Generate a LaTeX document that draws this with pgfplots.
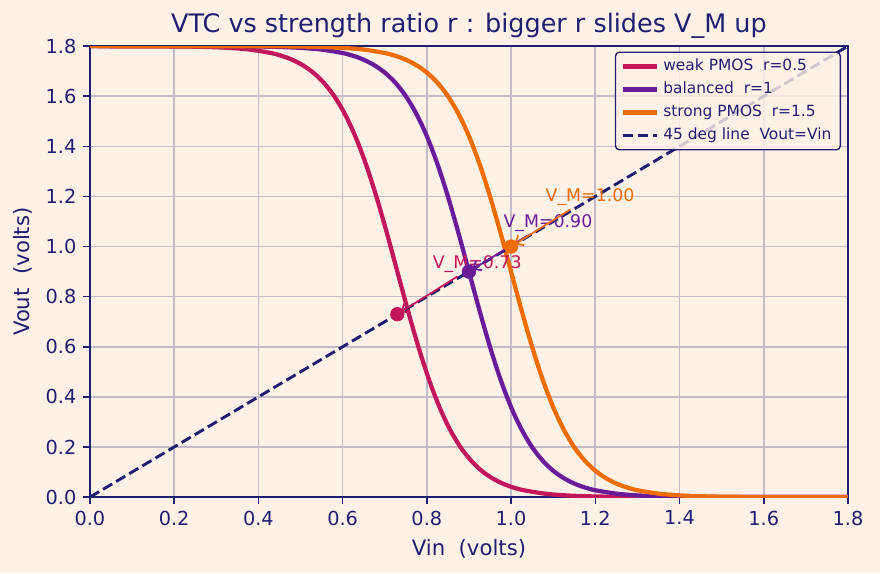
\documentclass[border=0pt]{standalone}
\usepackage{fontspec}
\setmainfont{DejaVu Sans}
\usepackage{pgfplots}
\pgfplotsset{compat=1.18}
\usetikzlibrary{arrows.meta}

\definecolor{bgc}{HTML}{FFF1E6}
\definecolor{navy}{HTML}{1E1E72}
\definecolor{crim}{HTML}{C2185B}
\definecolor{purp}{HTML}{6A1B9A}
\definecolor{oran}{HTML}{EF6C00}
\colorlet{gridc}{navy!26!bgc}

\begin{document}
\begin{tikzpicture}
\path[use as bounding box, fill=bgc] (0,0) rectangle (456pt,297pt);
\begin{axis}[
  at={(46.6pt,39.4pt)}, anchor=south west,
  scale only axis, width=392.8pt, height=233.7pt,
  xmin=0, xmax=1.8, ymin=0, ymax=1.8,
  xtick={0,0.2,0.4,0.6,0.8,1.0,1.2,1.4,1.6,1.8},
  ytick={0,0.2,0.4,0.6,0.8,1.0,1.2,1.4,1.6,1.8},
  tick pos=left, tick align=outside,
  major tick length=3.5pt,
  tick style={navy, line width=0.8pt},
  axis line style={navy, line width=1pt},
  grid=major,
  major grid style={gridc, line width=0.85pt},
  axis background/.style={fill=bgc},
  /pgf/number format/.cd, fixed, fixed zerofill, precision=1, assume math mode=true,
  /pgfplots/.cd,
  ticklabel style={font=\fontsize{10}{12}\selectfont, text=navy},
  title={VTC vs strength ratio r : bigger r slides V\_M up},
  title style={at={(axis description cs:0.5,1)}, anchor=base, yshift=1.3pt,
    inner sep=0pt, font=\fontsize{13.2}{15.8}\selectfont, text=navy},
  xlabel={Vin\ \ (volts)},
  ylabel={Vout\ \ (volts)},
  every axis x label/.style={at={(axis description cs:0.5,0)}, anchor=center,
    yshift=-27pt, font=\fontsize{11}{13.2}\selectfont, text=navy},
  every axis y label/.style={at={(axis description cs:0,0.5)}, rotate=90,
    anchor=center, yshift=35pt, font=\fontsize{11}{13.2}\selectfont, text=navy},
  legend cell align=left,
  legend image code/.code={\draw[#1, line cap=butt] (0pt,0pt) -- (18pt,0pt);},
  legend style={at={(axis description cs:1,1)}, anchor=north east,
    xshift=-3.6pt, yshift=-2.8pt, draw=navy, line width=0.7pt,
    fill=bgc, fill opacity=0.8, draw opacity=1, text opacity=1,
    rounded corners=2pt, font=\fontsize{8}{9.6}\selectfont, text=navy,
    row sep=0.4pt, inner xsep=2.6pt, inner ysep=1.6pt},
]

% weak PMOS, r = 0.5  (V_M = 0.73)
\addplot[crim, line width=2.2pt, smooth] coordinates {
(0,1.8) (0.13,1.7996) (0.23,1.7983) (0.28,1.7965) (0.33,1.7931) (0.38,1.7862)
(0.43,1.7725) (0.455,1.7614) (0.48,1.7458) (0.505,1.7242) (0.53,1.6946)
(0.555,1.6544) (0.58,1.6007) (0.605,1.5303) (0.63,1.4408) (0.655,1.3305)
(0.68,1.2005) (0.705,1.0547) (0.73,0.9) (0.755,0.7453) (0.78,0.5995)
(0.805,0.4695) (0.83,0.3592) (0.855,0.2697) (0.88,0.1993) (0.905,0.1456)
(0.93,0.1054) (0.955,0.0758) (0.98,0.0542) (1.005,0.0386) (1.03,0.0275)
(1.08,0.0138) (1.13,0.0069) (1.18,0.0035) (1.23,0.0017) (1.33,0.0004) (1.8,0)
};
\addlegendentry{weak PMOS\ \ r=0.5}

% balanced, r = 1  (V_M = 0.90)
\addplot[purp, line width=2.2pt, smooth] coordinates {
(0,1.8) (0.3,1.7996) (0.4,1.7983) (0.45,1.7965) (0.5,1.7931) (0.55,1.7862)
(0.6,1.7725) (0.625,1.7614) (0.65,1.7458) (0.675,1.7242) (0.7,1.6946)
(0.725,1.6544) (0.75,1.6007) (0.775,1.5303) (0.8,1.4408) (0.825,1.3305)
(0.85,1.2005) (0.875,1.0547) (0.9,0.9) (0.925,0.7453) (0.95,0.5995)
(0.975,0.4695) (1.0,0.3592) (1.025,0.2697) (1.05,0.1993) (1.075,0.1456)
(1.1,0.1054) (1.125,0.0758) (1.15,0.0542) (1.175,0.0386) (1.2,0.0275)
(1.25,0.0138) (1.3,0.0069) (1.35,0.0035) (1.4,0.0017) (1.5,0.0004) (1.8,0)
};
\addlegendentry{balanced\ \ r=1}

% strong PMOS, r = 1.5  (V_M = 1.00)
\addplot[oran, line width=2.2pt, smooth] coordinates {
(0,1.8) (0.4,1.7996) (0.5,1.7983) (0.55,1.7965) (0.6,1.7931) (0.65,1.7862)
(0.7,1.7725) (0.725,1.7614) (0.75,1.7458) (0.775,1.7242) (0.8,1.6946)
(0.825,1.6544) (0.85,1.6007) (0.875,1.5303) (0.9,1.4408) (0.925,1.3305)
(0.95,1.2005) (0.975,1.0547) (1.0,0.9) (1.025,0.7453) (1.05,0.5995)
(1.075,0.4695) (1.1,0.3592) (1.125,0.2697) (1.15,0.1993) (1.175,0.1456)
(1.2,0.1054) (1.225,0.0758) (1.25,0.0542) (1.275,0.0386) (1.3,0.0275)
(1.35,0.0138) (1.4,0.0069) (1.45,0.0035) (1.5,0.0017) (1.6,0.0004) (1.8,0)
};
\addlegendentry{strong PMOS\ \ r=1.5}

% unity-gain reference line
\addplot[navy, line width=1.5pt, dash pattern=on 5.5pt off 2.4pt] coordinates {(0,0) (1.8,1.8)};
\addlegendentry{45 deg line\ \ Vout=Vin}

% annotations: switching thresholds
\node[anchor=west, inner sep=0pt, outer sep=2pt, text=crim, font=\fontsize{9}{10.8}\selectfont]
  (ta) at (axis cs:0.805,0.93) {V\_M=0.73};
\node[anchor=west, inner sep=0pt, outer sep=2pt, text=purp, font=\fontsize{9}{10.8}\selectfont]
  (tb) at (axis cs:0.973,1.094) {V\_M=0.90};
\node[anchor=west, inner sep=0pt, outer sep=2pt, text=oran, font=\fontsize{9}{10.8}\selectfont]
  (tc) at (axis cs:1.073,1.197) {V\_M=1.00};
\draw[crim, line width=0.9pt, shorten >=2pt, -{Straight Barb[length=3.5pt,width=6pt]}] (ta) -- (axis cs:0.73,0.73);
\draw[purp, line width=0.9pt, shorten >=2pt, -{Straight Barb[length=3.5pt,width=6pt]}] (tb) -- (axis cs:0.9,0.9);
\draw[oran, line width=0.9pt, shorten >=2pt, -{Straight Barb[length=3.5pt,width=6pt]}] (tc) -- (axis cs:1.0,1.0);

% V_M markers on the 45 degree line
\addplot[only marks, mark=*, mark size=3.5pt, crim, forget plot] coordinates {(0.73,0.73)};
\addplot[only marks, mark=*, mark size=3.5pt, purp, forget plot] coordinates {(0.9,0.9)};
\addplot[only marks, mark=*, mark size=3.5pt, oran, forget plot] coordinates {(1.0,1.0)};
\end{axis}
\end{tikzpicture}
\end{document}
